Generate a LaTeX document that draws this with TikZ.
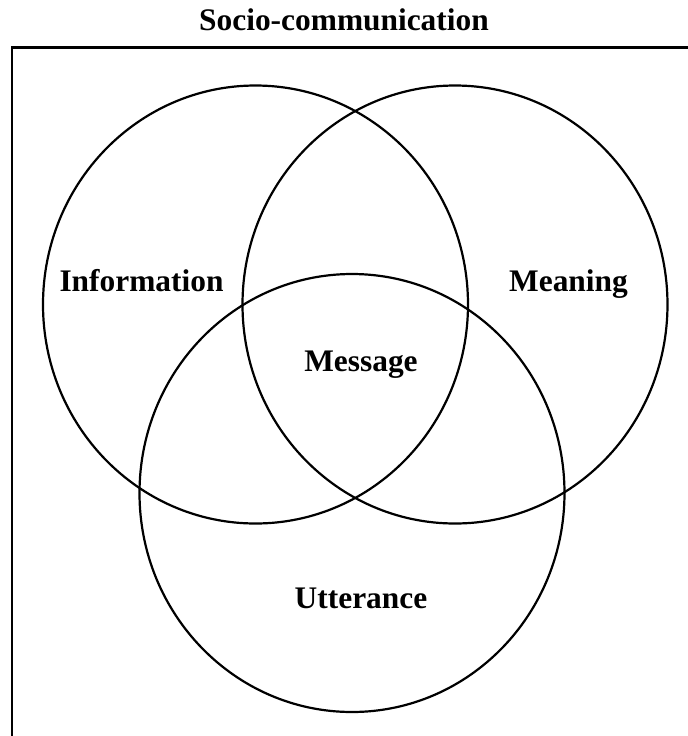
\documentclass[tikz,border=0pt]{standalone}
\usepackage{fontspec}
\setmainfont{Liberation Serif}

\begin{document}
\begin{tikzpicture}[
        x=0.5pt,
        y=-0.5pt,
        font=\fontsize{15.7}{18}\selectfont\bfseries,
        line width=1.1pt,
        rotulo/.style={anchor=base, inner sep=0pt}
    ]

    % Definição das formas
    \def\circInfo{(255.5,304.5) ellipse [x radius=106.25pt, y radius=109.5pt]}
    \def\circMean{(455,304.5) ellipse [x radius=106.25pt, y radius=109.5pt]}
    \def\circUtter{(352,493) ellipse [x radius=106.25pt, y radius=109.5pt]}

    \useasboundingbox (0,0) rectangle (688,736);
    \clip (0,0) rectangle (688,736);

    % Moldura
    \draw (12,47.5) rectangle (720,780);

    % Círculos
    \begin{scope}
        \draw \circInfo;
        \draw \circMean;
        \draw \circUtter;

        \node[rotulo] (titulo) at (344,30.5) {Socio-communication};
        \node[rotulo] (info) at (141.5,291.5) {Information};
        \node[rotulo] (mean) at (568.5,291) {Meaning};
        \node[rotulo] (msg) at (361,371.5) {Message};
        \node[rotulo] (utter) at (361,608.5) {Utterance};
    \end{scope}

\end{tikzpicture}
\end{document}
